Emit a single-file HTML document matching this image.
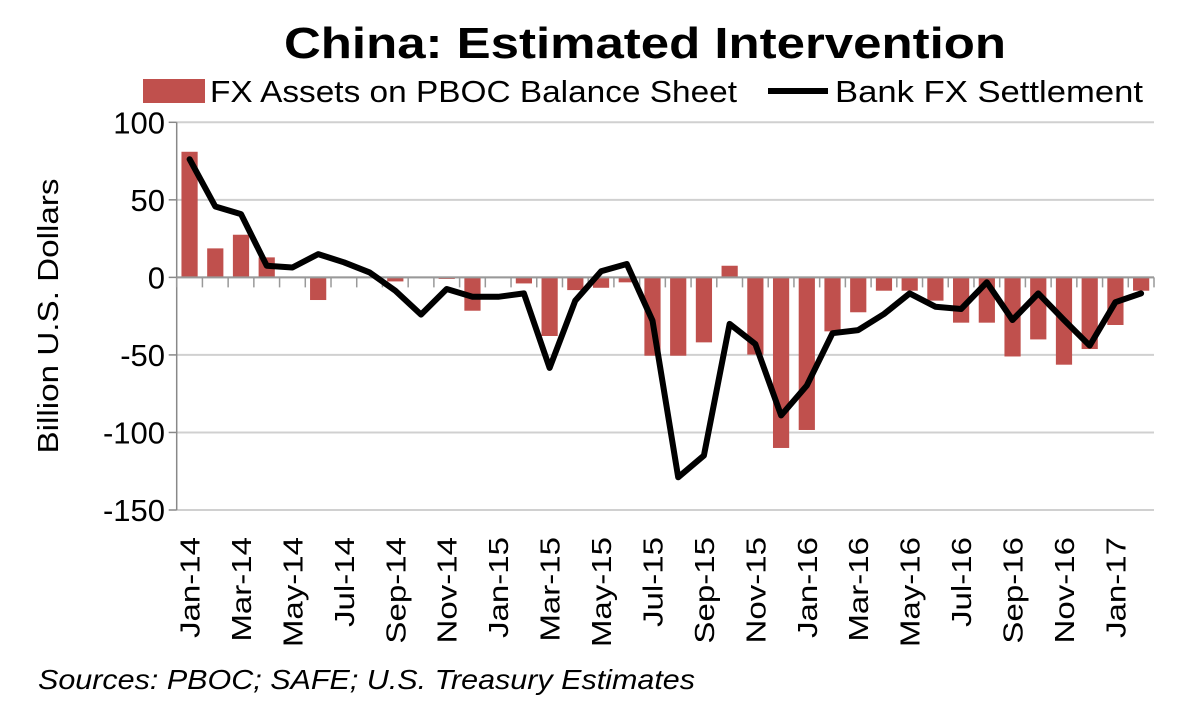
<!DOCTYPE html>
<html><head><meta charset="utf-8"><style>
html,body{margin:0;padding:0;background:#fff;}
svg{display:block;font-family:"Liberation Sans",sans-serif;}
</style></head><body>
<svg id="chart" width="1200" height="723" viewBox="0 0 1200 723">
<text x="645" y="58" text-anchor="middle" font-size="44" font-weight="bold" textLength="722" lengthAdjust="spacingAndGlyphs">China: Estimated Intervention</text>
<g>
<rect x="143" y="79" width="62" height="24" fill="#c0504d"/>
<text x="210" y="102" font-size="31" textLength="527" lengthAdjust="spacingAndGlyphs">FX Assets on PBOC Balance Sheet</text>
<line x1="768" y1="91" x2="828" y2="91" stroke="#000" stroke-width="6"/>
<text x="835" y="102" font-size="31" textLength="308" lengthAdjust="spacingAndGlyphs">Bank FX Settlement</text>
</g>
<text transform="translate(58,316) rotate(-90)" text-anchor="middle" font-size="29" textLength="275" lengthAdjust="spacingAndGlyphs">Billion U.S. Dollars</text>
<g id="grid"></g><g id="bars"></g><g id="axes"></g><g id="line"></g><g id="labels"></g>
<text x="38" y="689" font-size="28" font-style="italic" textLength="657" lengthAdjust="spacingAndGlyphs">Sources: PBOC; SAFE; U.S. Treasury Estimates</text>
</svg>
<script>
const categories = ["Jan-14","Feb-14","Mar-14","Apr-14","May-14","Jun-14","Jul-14","Aug-14","Sep-14","Oct-14","Nov-14","Dec-14","Jan-15","Feb-15","Mar-15","Apr-15","May-15","Jun-15","Jul-15","Aug-15","Sep-15","Oct-15","Nov-15","Dec-15","Jan-16","Feb-16","Mar-16","Apr-16","May-16","Jun-16","Jul-16","Aug-16","Sep-16","Oct-16","Nov-16","Dec-16","Jan-17","Feb-17"];
const fxAssets = [81,18.7,27.5,12.9,0,-14.6,0,0,-2.6,0,-1,-21.5,0,-3.9,-37.8,-8.2,-6.7,-3.2,-50.5,-50.5,-41.9,7.5,-49.8,-110,-98.4,-34.8,-22.5,-8.6,-8.6,-15,-29.2,-29.2,-51,-40,-56.3,-46.2,-30.7,-8.6];
const settlement = [76.2,45.7,40.8,7.5,6.4,15,9.7,3.2,-8.6,-24,-7.5,-12.5,-12.5,-10.3,-58.4,-15,3.9,8.6,-27.9,-128.9,-114.9,-30,-43,-89,-69.8,-36,-34,-23.6,-10.3,-18.9,-20.4,-3.2,-27.5,-10.3,-27.5,-44,-16,-10.3];
const yTicks = [100,50,0,-50,-100,-150];
const NS="http://www.w3.org/2000/svg";
const L=176.7,R=1154,T=122.3,B=510;
const yMin=-150,yMax=100;
const band=(R-L)/categories.length;
const y=v=>T+(yMax-v)/(yMax-yMin)*(B-T);
const xc=i=>L+band*(i+0.5);
function mk(tag,attrs,parent){const e=document.createElementNS(NS,tag);for(const k in attrs)e.setAttribute(k,attrs[k]);document.getElementById(parent).appendChild(e);return e;}
yTicks.forEach(t=>{
  const g=mk('line',{x1:L,x2:R,y1:y(t),y2:y(t),stroke:'#d0d0d0','stroke-width':2},'grid');
  
  
  const tk=mk('line',{x1:L-8,x2:L,y1:y(t),y2:y(t),stroke:'#888','stroke-width':1.5},'axes');
  
  
  const lb=mk('text',{x:165,y:y(t)+11,'text-anchor':'end','font-size':31},'labels');
  lb.textContent=t;
  
  
});
const ya=mk('line',{x1:L,x2:L,y1:T,y2:B,stroke:'#888','stroke-width':1.5},'axes');


fxAssets.forEach((v,i)=>{
  const bw=band*0.63;
  const r=mk('rect',{x:xc(i)-bw/2,y:Math.min(y(v),y(0)),width:bw,height:Math.abs(y(v)-y(0)),fill:'#c0504d'},'bars');
  
  
});
const xa=mk('line',{x1:L,x2:R,y1:y(0),y2:y(0),stroke:'#999','stroke-width':2},'axes');


for(let i=0;i<=categories.length;i++){
  const tk=mk('line',{x1:L+band*i,x2:L+band*i,y1:y(0),y2:y(0)+10,stroke:'#999','stroke-width':1.5},'axes');
  
  
}
const pts=settlement.map((v,i)=>xc(i).toFixed(1)+','+y(v).toFixed(1)).join(' ');
const pl=mk('polyline',{points:pts,fill:'none',stroke:'#000','stroke-width':6,'stroke-linejoin':'round','stroke-linecap':'round'},'line');


categories.forEach((c,i)=>{
  if(i%2)return;
  const t=mk('text',{transform:`translate(${xc(i)+10},537) rotate(-90)`,'text-anchor':'end','font-size':28},'labels');
  t.textContent=c;
  
  
  const w=t.getComputedTextLength();
  t.setAttribute('textLength',(w*1.18).toFixed(1));
  t.setAttribute('lengthAdjust','spacingAndGlyphs');
});
</script>
</body></html>
